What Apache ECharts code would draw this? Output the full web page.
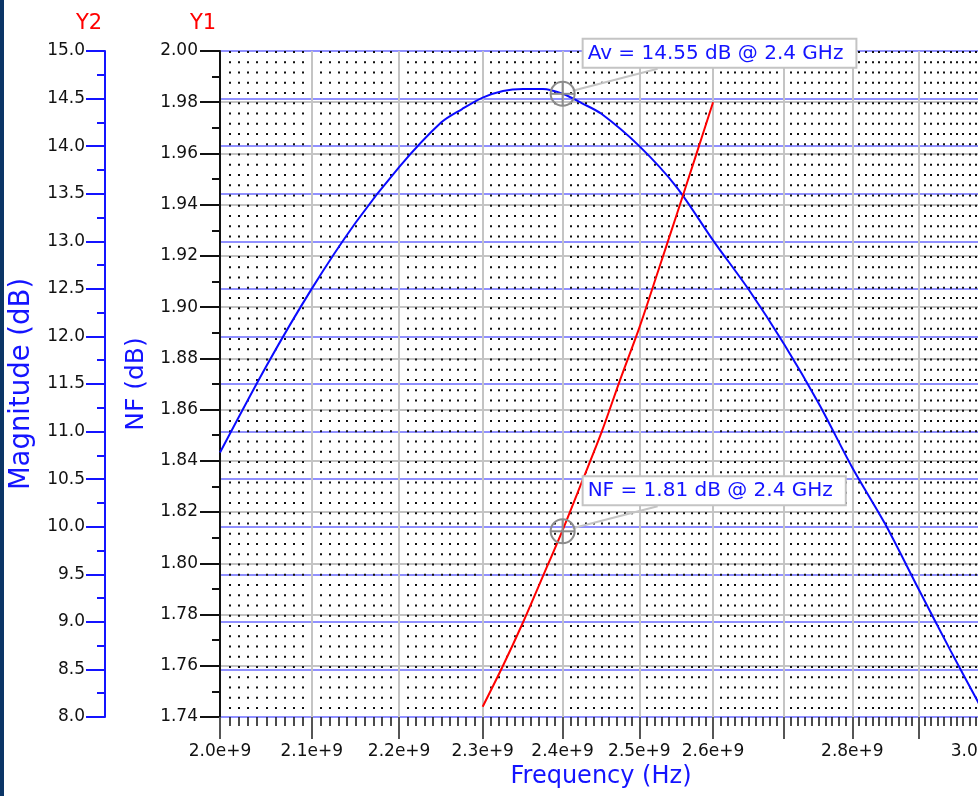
<!DOCTYPE html>
<html>
<head>
<meta charset="utf-8">
<title>Av / NF vs frequency</title>
<script src="https://cdn.jsdelivr.net/npm/echarts@6/dist/echarts.min.js"></script>
<style>
  html, body { margin: 0; padding: 0; background: #fff; }
  #main { width: 978px; height: 796px; }
</style>
</head>
<body>
<div id="main"></div>
<script>
// gain curve (Y2, dB) and noise figure (Y1, dB), frequency in GHz
const avFreqGHz = [2.00, 2.05, 2.10, 2.15, 2.20, 2.25, 2.275, 2.30, 2.325, 2.35, 2.375, 2.40,
  2.425, 2.45, 2.50, 2.55, 2.60, 2.65, 2.70, 2.75, 2.80, 2.85, 2.90, 2.95, 3.00];
const avDb = [10.78, 11.69, 12.50, 13.20, 13.78, 14.25, 14.39, 14.51, 14.58, 14.60, 14.60, 14.55,
  14.45, 14.34, 14.00, 13.57, 13.01, 12.49, 11.92, 11.30, 10.62, 10.02, 9.35, 8.70, 8.08];

const nfFreqGHz = [2.300, 2.325, 2.350, 2.375, 2.400, 2.425, 2.450, 2.475, 2.500, 2.525, 2.550, 2.575, 2.600];
const nfDb = [1.744, 1.760, 1.777, 1.795, 1.813, 1.832, 1.851, 1.872, 1.892, 1.914, 1.936, 1.958, 1.980];

const xLabelGHz = [2.0, 2.1, 2.2, 2.3, 2.4, 2.5, 2.6, 2.8, 3.0];
const xMajorGHz = [2.0, 2.1, 2.2, 2.3, 2.4, 2.5, 2.6, 2.7, 2.8, 2.9, 3.0];
const xMinorGHz = [];
for (let i = 1; i < 100; i++) {
  if (i % 10) xMinorGHz.push(2 + i / 100);
}

const markerGHz = 2.4;
const avMarkerDb = 14.55;
const nfMarkerDb = 1.8125;
const avMarkerText = 'Av = 14.55 dB @ 2.4 GHz';
const nfMarkerText = 'NF = 1.81 dB @ 2.4 GHz';

// the frequency axis is logarithmic
const toLog = (ghz) => Math.log10(ghz * 1e9);
const font = '"DejaVu Sans", sans-serif';
const blue = '#1414ff';
const gridGray = '#c4c4c4';

const chart = echarts.init(document.getElementById('main'), null, { renderer: 'canvas' });

const option = {
  animation: false,
  backgroundColor: '#fff',
  grid: { left: 220, top: 51, width: 762, height: 666, containLabel: false, outerBoundsMode: 'none' },
  xAxis: [
    {
      type: 'value',
      position: 'bottom',
      min: toLog(2.0),
      max: toLog(3.0),
      name: 'Frequency (Hz)',
      nameLocation: 'middle',
      nameGap: 47,
      nameTextStyle: { color: blue, fontSize: 24, fontFamily: font },
      axisLine: { show: false, onZero: false },
      axisTick: {
        show: true,
        customValues: xMajorGHz.map(toLog),
        length: 22,
        lineStyle: { color: '#555', width: 2 }
      },
      axisLabel: {
        customValues: xLabelGHz.map(toLog),
        formatter: (v) => (Math.pow(10, v) / 1e9).toFixed(1) + 'e+9',
        margin: 26,
        fontSize: 17,
        color: '#111',
        fontFamily: font
      },
      splitLine: { show: true, lineStyle: { color: gridGray, width: 2 } }
    },
    {
      // minor ticks and the dotted grid
      type: 'value',
      position: 'bottom',
      min: toLog(2.0),
      max: toLog(3.0),
      axisLine: { show: false, onZero: false },
      axisTick: {
        show: true,
        customValues: xMinorGHz.map(toLog),
        length: 9,
        lineStyle: { color: '#111', width: 1.5 }
      },
      axisLabel: { show: false },
      splitLine: { show: true, lineStyle: { color: '#111', width: 2, type: [2, 8.25] } }
    }
  ],
  yAxis: [
    {
      type: 'value',
      position: 'left',
      min: 1.74,
      max: 2.0,
      interval: 0.02,
      name: 'NF (dB)',
      nameLocation: 'middle',
      nameGap: 69,
      nameTextStyle: { color: blue, fontSize: 25, fontFamily: font },
      axisLine: { show: true, onZero: false, lineStyle: { color: '#111', width: 2 } },
      axisTick: { show: true, length: 20, lineStyle: { color: '#111', width: 2 } },
      minorTick: { show: true, splitNumber: 2, length: 8, lineStyle: { color: '#111', width: 2 } },
      axisLabel: { formatter: (v) => v.toFixed(2), margin: 22, fontSize: 17, color: '#111', fontFamily: font },
      splitLine: { show: true, lineStyle: { color: gridGray, width: 2 } }
    },
    {
      type: 'value',
      position: 'left',
      offset: 115,
      min: 8,
      max: 15,
      interval: 0.5,
      name: 'Magnitude (dB)',
      nameLocation: 'middle',
      nameGap: 66,
      nameTextStyle: { color: blue, fontSize: 27.5, fontFamily: font },
      axisLine: { show: true, onZero: false, lineStyle: { color: blue, width: 2 } },
      axisTick: { show: true, length: 19, lineStyle: { color: blue, width: 2 } },
      minorTick: { show: true, splitNumber: 2, length: 8, lineStyle: { color: blue, width: 2 } },
      axisLabel: { formatter: (v) => v.toFixed(1), margin: 20, fontSize: 17, color: '#111', fontFamily: font },
      splitLine: { show: true, lineStyle: { color: '#9090ff', width: 2 } }
    }
  ],
  series: [
    {
      name: 'Av',
      type: 'line',
      xAxisIndex: 0,
      yAxisIndex: 1,
      data: avFreqGHz.map((f, i) => [toLog(f), avDb[i]]),
      showSymbol: false,
      smooth: 0.3,
      silent: true,
      z: 5,
      lineStyle: { color: '#0a0aff', width: 2 }
    },
    {
      name: 'NF',
      type: 'line',
      xAxisIndex: 0,
      yAxisIndex: 0,
      data: nfFreqGHz.map((f, i) => [toLog(f), nfDb[i]]),
      showSymbol: false,
      smooth: 0.3,
      silent: true,
      z: 5,
      lineStyle: { color: '#ff0000', width: 2 }
    }
  ]
};

chart.setOption(option);

// marker circle with crosshair, leader line and boxed label
function marker(yAxisIndex, yVal, text) {
  const [cx, cy] = chart.convertToPixel({ xAxisIndex: 0, yAxisIndex: yAxisIndex }, [toLog(markerGHz), yVal]);
  const ring = { stroke: '#8c8c8c', lineWidth: 2, fill: null };
  return [
    { type: 'line', z: 100, shape: { x1: cx + 10, y1: cy - 3, x2: cx + 95, y2: cy - 25 },
      style: { stroke: gridGray, lineWidth: 2 } },
    { type: 'circle', z: 101, shape: { cx: cx, cy: cy, r: 12 }, style: ring },
    { type: 'line', z: 101, shape: { x1: cx - 12, y1: cy, x2: cx + 12, y2: cy }, style: ring },
    { type: 'line', z: 101, shape: { x1: cx, y1: cy - 12, x2: cx, y2: cy + 12 }, style: ring },
    { type: 'text', z: 102, x: cx + 21, y: cy - 54,
      style: {
        text: text,
        font: '20px "DejaVu Sans", sans-serif',
        fill: blue,
        backgroundColor: '#fff',
        borderColor: gridGray,
        borderWidth: 2,
        padding: [4, 12, 3, 4]
      } }
  ];
}

chart.setOption({
  graphic: {
    elements: [
      { type: 'rect', shape: { x: 0, y: 0, width: 4, height: 796 }, style: { fill: '#0b3566' } },
      { type: 'text', x: 89, y: 24, style: { text: 'Y2', font: '21px "DejaVu Sans", sans-serif', fill: '#ff0000', align: 'center', verticalAlign: 'middle' } },
      { type: 'text', x: 203, y: 24, style: { text: 'Y1', font: '21px "DejaVu Sans", sans-serif', fill: '#ff0000', align: 'center', verticalAlign: 'middle' } }
    ].concat(marker(1, avMarkerDb, avMarkerText), marker(0, nfMarkerDb, nfMarkerText))
  }
});
</script>
</body>
</html>
